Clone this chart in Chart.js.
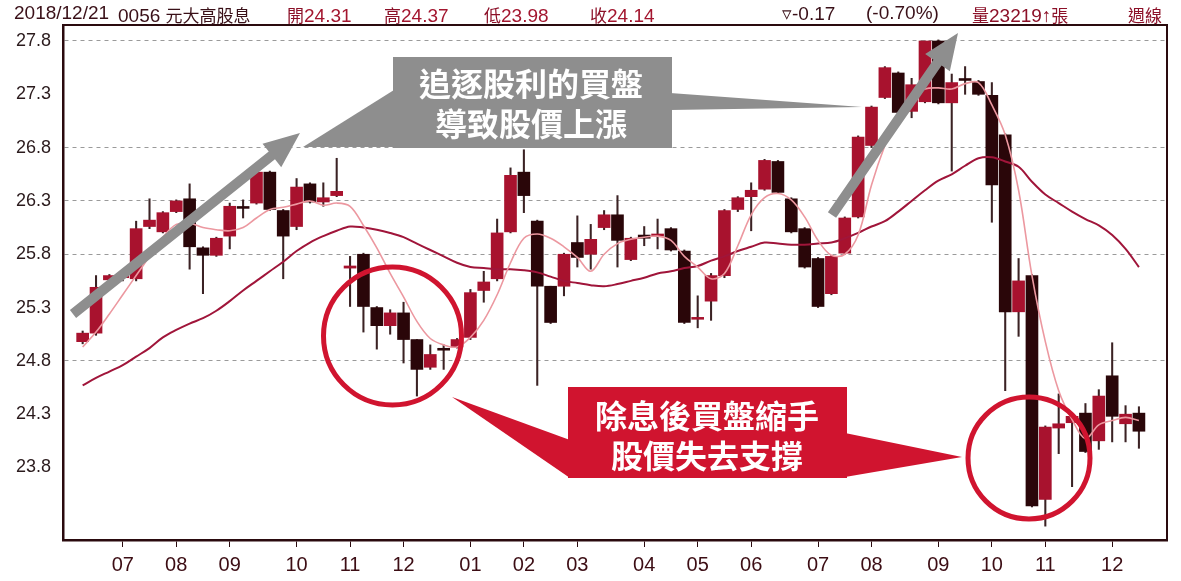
<!DOCTYPE html>
<html>
<head>
<meta charset="utf-8">
<script src="https://cdn.jsdelivr.net/npm/chart.js@4.4.1/dist/chart.umd.min.js"></script>
<style>
  body { margin: 0; background: #fff; overflow: hidden; }
  #wrap { position: relative; width: 1181px; height: 581px; }
  #head { position: absolute; left: 0; top: 0; width: 1181px; height: 24px;
          font-family: "Liberation Sans", "Noto Sans CJK TC", sans-serif; font-size: 19px; color: #3a1018; }
  #head span { position: absolute; top: 2px; white-space: nowrap; }
  #head b { font-weight: normal; color: #a3162f; }
  #head i { font-style: normal; font-size: 17px; }
  canvas { position: absolute; left: 0; top: 0; }
</style>
</head>
<body>
<div id="wrap">
  <canvas id="chart" width="1181" height="581"></canvas>
  <div id="head">
    <span style="left:14px">2018/12/21</span>
    <span style="left:118px">0056 <i>元大高股息</i></span>
    <span style="left:287px;color:#8c1028"><i>開</i><b>24.31</b></span>
    <span style="left:384px;color:#8c1028"><i>高</i><b>24.37</b></span>
    <span style="left:484px;color:#8c1028"><i>低</i><b>23.98</b></span>
    <span style="left:590px;color:#8c1028"><i>收</i><b>24.14</b></span>
    <span style="left:782px">▿-0.17</span>
    <span style="left:866px">(-0.70%)</span>
    <span style="left:972px;color:#8c1028"><i>量</i>23219↑<i>張</i></span>
    <span style="left:1128px;color:#8c1028"><i>週線</i></span>
  </div>
</div>
<script>
// weekly candles, 0056 元大高股息
const dates = [
  "2017-06-16","2017-06-23","2017-06-30","2017-07-07","2017-07-14","2017-07-21","2017-07-28","2017-08-04","2017-08-11","2017-08-18",
  "2017-08-25","2017-09-01","2017-09-08","2017-09-15","2017-09-22","2017-09-29","2017-10-06","2017-10-13","2017-10-20","2017-10-27",
  "2017-11-03","2017-11-10","2017-11-17","2017-11-24","2017-12-01","2017-12-08","2017-12-15","2017-12-22","2017-12-29","2018-01-05",
  "2018-01-12","2018-01-19","2018-01-26","2018-02-02","2018-02-09","2018-02-16","2018-02-23","2018-03-02","2018-03-09","2018-03-16",
  "2018-03-23","2018-03-30","2018-04-06","2018-04-13","2018-04-20","2018-04-27","2018-05-04","2018-05-11","2018-05-18","2018-05-25",
  "2018-06-01","2018-06-08","2018-06-15","2018-06-22","2018-06-29","2018-07-06","2018-07-13","2018-07-20","2018-07-27","2018-08-03",
  "2018-08-10","2018-08-17","2018-08-24","2018-08-31","2018-09-07","2018-09-14","2018-09-21","2018-09-28","2018-10-05","2018-10-12",
  "2018-10-19","2018-10-26","2018-11-02","2018-11-09","2018-11-16","2018-11-23","2018-11-30","2018-12-07","2018-12-14","2018-12-21"
];
const open = [
  24.98,25.06,25.56,25.58,25.57,26.06,26.01,26.20,26.32,25.86,
  25.79,25.97,26.24,26.28,26.57,26.21,26.06,26.46,26.29,26.35,
  25.67,25.80,25.30,25.13,25.25,25.00,24.74,24.91,24.93,25.02,
  25.46,25.57,26.01,26.57,26.11,25.50,25.50,25.91,25.80,26.05,
  26.17,25.75,25.98,25.97,26.04,25.83,25.19,25.36,25.60,26.22,
  26.34,26.41,26.67,26.32,26.04,25.76,25.43,25.81,26.15,26.82,
  27.27,27.50,27.14,27.23,27.80,27.22,27.43,27.42,27.29,26.92,
  25.26,25.60,23.50,24.17,24.22,24.31,24.05,24.66,24.21,24.31
];
const high = [
  25.08,25.60,25.61,25.64,26.11,26.32,26.20,26.31,26.46,25.87,
  25.96,26.28,26.31,26.57,26.58,26.22,26.51,26.47,26.47,26.70,
  25.78,25.81,25.31,25.28,25.35,25.00,24.95,24.95,25.01,25.47,
  25.64,26.13,26.61,26.78,26.12,25.50,25.81,26.16,26.08,26.21,
  26.35,25.96,26.06,26.13,26.05,25.84,25.41,25.62,26.22,26.34,
  26.47,26.69,26.68,26.33,26.05,25.77,25.79,26.15,26.91,27.19,
  27.56,27.51,27.45,27.80,27.81,27.49,27.56,27.43,27.41,26.93,
  25.76,25.61,24.19,24.49,24.30,24.40,24.53,24.97,24.38,24.37
];
const low = [
  24.96,25.04,25.54,25.55,25.55,26.04,26.00,26.19,25.66,25.43,
  25.78,25.85,26.14,26.27,26.21,25.57,26.03,26.28,26.25,26.34,
  25.31,25.07,24.91,25.05,24.78,24.47,24.72,24.72,24.92,25.00,
  25.35,25.55,26.00,26.19,24.57,25.15,25.41,25.68,25.66,26.03,
  25.68,25.74,25.88,25.85,25.83,25.15,25.11,25.18,25.58,26.20,
  26.02,26.40,26.37,26.00,25.67,25.30,25.42,25.80,26.14,26.80,
  27.26,27.12,27.08,27.22,27.21,26.58,27.30,27.29,26.10,24.52,
  25.03,23.43,23.25,23.93,23.62,23.94,23.97,24.04,24.04,23.98
];
const close = [
  25.06,25.49,25.60,25.62,26.04,26.12,26.19,26.30,25.87,25.79,
  25.95,26.25,26.23,26.57,26.22,25.97,26.43,26.29,26.33,26.39,
  25.69,25.31,25.13,25.25,25.00,24.72,24.86,24.90,25.00,25.44,
  25.54,26.00,26.54,26.35,25.50,25.16,25.80,25.77,25.94,26.17,
  25.93,25.95,25.95,25.99,25.84,25.16,25.20,25.60,26.21,26.33,
  26.40,26.68,26.38,26.01,25.68,25.31,25.78,26.14,26.90,27.18,
  27.55,27.13,27.39,27.80,27.22,27.41,27.43,27.30,26.45,25.26,
  25.55,23.44,24.18,24.21,24.28,23.95,24.47,24.28,24.30,24.14
];
// moving averages
const maShort = [
  24.93,25.07,25.24,25.42,25.60,25.78,25.96,26.08,26.09,26.05,
  26.03,26.02,26.05,26.14,26.22,26.24,26.27,26.30,26.26,26.28,
  26.25,26.07,25.86,25.62,25.40,25.17,25.01,24.95,24.93,25.02,
  25.18,25.42,25.72,25.95,25.99,25.95,25.87,25.77,25.64,25.80,
  25.90,25.94,25.96,25.97,25.93,25.78,25.68,25.57,25.62,25.88,
  26.17,26.33,26.37,26.31,26.15,25.93,25.79,25.80,25.98,26.45,
  26.82,27.10,27.27,27.35,27.36,27.35,27.40,27.41,27.20,26.92,
  26.40,25.60,24.98,24.52,24.25,24.07,24.20,24.24,24.27,24.24
];
const maLong = [
  24.57,24.64,24.70,24.76,24.84,24.92,25.02,25.09,25.15,25.20,
  25.27,25.36,25.46,25.55,25.64,25.73,25.83,25.91,25.97,26.02,
  26.06,26.05,26.03,26.00,25.96,25.90,25.84,25.78,25.72,25.68,
  25.67,25.66,25.66,25.65,25.63,25.59,25.55,25.53,25.51,25.50,
  25.52,25.55,25.58,25.62,25.64,25.67,25.69,25.74,25.78,25.83,
  25.87,25.91,25.90,25.89,25.89,25.90,25.91,25.95,26.00,26.06,
  26.11,26.20,26.30,26.40,26.49,26.55,26.63,26.70,26.71,26.67,
  26.62,26.48,26.36,26.28,26.20,26.13,26.07,25.98,25.85,25.68
];
const yTicks = [23.8, 24.3, 24.8, 25.3, 25.8, 26.3, 26.8, 27.3, 27.8];
const yGridShown = [24.8, 25.8, 26.3, 26.8, 27.8];

const UP = "#a8122e", DOWN = "#2a0609", WICK = "#3b2224";

const isUp = (i) => close[i] > open[i];
const bodies = dates.map((d, i) => {
  const lo = Math.min(open[i], close[i]);
  const hi = Math.max(open[i], close[i]);
  return { x: i, y: [lo, Math.max(hi, lo + 0.018)] };
});
const wicks = dates.map((d, i) => ({ x: i, y: [low[i], high[i]] }));
const colors = dates.map((d, i) => isUp(i) ? UP : DOWN);

// month ticks: first week of each month
const monthIdx = dates.map((d, i) => i).filter(i => i > 0 && dates[i].slice(5, 7) !== dates[i - 1].slice(5, 7));

// annotation layer (callouts drawn on top of the chart)
const notes = {
  id: "notes",
  afterDatasetsDraw(chart) {
    const c = chart.ctx;
    c.save();
    const poly = (pts, col) => {
      c.beginPath();
      c.moveTo(pts[0][0], pts[0][1]);
      pts.slice(1).forEach(p => c.lineTo(p[0], p[1]));
      c.closePath();
      c.fillStyle = col;
      c.fill();
    };
    const arrow = (x1, y1, x2, y2, col) => {
      const dx = x2 - x1, dy = y2 - y1, len = Math.hypot(dx, dy);
      const ux = dx / len, uy = dy / len, nx = -uy, ny = ux;
      const hl = 36, hw = 15, sw = 5;
      const bx = x2 - ux * hl, by = y2 - uy * hl;
      poly([
        [x1 + nx * sw, y1 + ny * sw], [bx + nx * sw, by + ny * sw], [bx + nx * hw, by + ny * hw],
        [x2, y2],
        [bx - nx * hw, by - ny * hw], [bx - nx * sw, by - ny * sw], [x1 - nx * sw, y1 - ny * sw]
      ], col);
    };
    const GREY = "#8e8e8e", RED = "#d0142f";
    // grey callout
    arrow(73, 314, 300, 133, GREY);
    arrow(832, 215, 958, 33, GREY);
    poly([[394, 90], [394, 147], [303, 147]], GREY);
    poly([[670, 93], [670, 110], [862, 107]], GREY);
    c.fillStyle = GREY;
    c.fillRect(393, 57, 279, 91);
    // red callout
    c.strokeStyle = RED;
    c.lineWidth = 5;
    c.beginPath(); c.arc(392.5, 336, 69, 0, Math.PI * 2); c.stroke();
    c.beginPath(); c.arc(1029, 458, 61, 0, Math.PI * 2); c.stroke();
    poly([[452, 397], [570, 440], [570, 478]], RED);
    poly([[845, 433], [845, 477], [962, 457]], RED);
    c.fillStyle = RED;
    c.fillRect(568, 387, 279, 91);
    // texts
    c.fillStyle = "#fff";
    c.font = "bold 32px 'Noto Sans CJK TC'";
    c.textAlign = "center";
    c.textBaseline = "middle";
    c.fillText("追逐股利的買盤", 531, 84);
    c.fillText("導致股價上漲", 531, 124);
    c.fillText("除息後買盤縮手", 707, 416);
    c.fillText("股價失去支撐", 707, 456);
    // frame top / right
    const a = chart.chartArea;
    c.strokeStyle = "#2a0a0e";
    c.lineWidth = 2;
    c.beginPath();
    c.moveTo(a.left, a.top); c.lineTo(a.right, a.top); c.lineTo(a.right, a.bottom);
    c.stroke();
    c.restore();
  }
};

new Chart(document.getElementById("chart").getContext("2d"), {
  type: "bar",
  data: {
    datasets: [
      {
        type: "line", label: "MA short", data: maShort.map((v, i) => ({ x: i, y: v })),
        borderColor: "#ec98a0", borderWidth: 1.6, pointRadius: 0, tension: 0.35, order: 0
      },
      {
        type: "line", label: "MA long", data: maLong.map((v, i) => ({ x: i, y: v })),
        borderColor: "#a0153a", borderWidth: 2, pointRadius: 0, tension: 0.35, order: 1
      },
      {
        label: "body", data: bodies, backgroundColor: colors, barThickness: 12,
        grouped: false, order: 2
      },
      {
        label: "wick", data: wicks, backgroundColor: WICK, barThickness: 1.4,
        grouped: false, order: 3
      }
    ]
  },
  options: {
    responsive: false,
    animation: false,
    events: [],
    layout: { padding: { top: 25, right: 14, left: 0, bottom: 0 } },
    plugins: { legend: { display: false }, tooltip: { enabled: false } },
    scales: {
      x: {
        type: "linear",
        offset: false,
        min: -1.47, max: 81.1,
        afterFit: (s) => { s.height = 41; },
        afterBuildTicks: (s) => { s.ticks = monthIdx.map(v => ({ value: v })); },
        ticks: {
          autoSkip: false, maxRotation: 0, padding: 6,
          color: "#3c0d14",
          font: { family: "Liberation Sans", size: 20 },
          callback: (v) => dates[v] ? dates[v].slice(5, 7) : ""
        },
        grid: { offset: false, drawOnChartArea: false, tickLength: 7, color: "#2a0a0e", lineWidth: 1 },
        border: { color: "#2a0a0e", width: 2.5 }
      },
      y: {
        min: 23.12, max: 27.95,
        afterFit: (s) => { s.width = 63; },
        afterBuildTicks: (s) => { s.ticks = yTicks.map(v => ({ value: v })); },
        ticks: {
          padding: 12, color: "#2a1a1c",
          font: { family: "Liberation Sans", size: 18 },
          callback: (v) => v.toFixed(1)
        },
        grid: {
          drawTicks: false,
          color: (ctx) => yGridShown.some(g => Math.abs(g - ctx.tick.value) < 0.001) ? "#9a9a9a" : "rgba(0,0,0,0)",
          lineWidth: 1
        },
        border: { color: "#2a0a0e", width: 2.5, dash: [4, 4] }
      }
    }
  },
  plugins: [notes]
});
</script>
</body>
</html>
